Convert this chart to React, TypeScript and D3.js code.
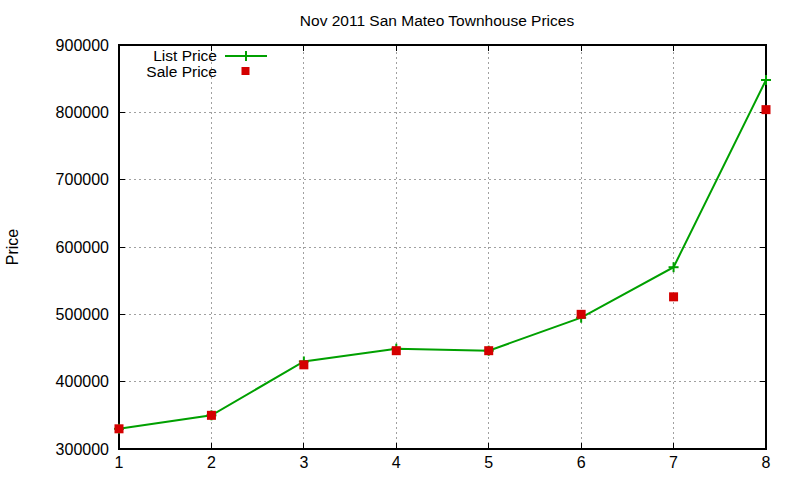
import React from 'react';
import * as d3 from 'd3';

const units = [1, 2, 3, 4, 5, 6, 7, 8];
const listPrices = [330000, 350000, 430000, 449000, 446000, 495000, 570000, 848000];
const salePrices = [330000, 350000, 425000, 446000, 446000, 500000, 526000, 804000];
const yTicks = [300000, 400000, 500000, 600000, 700000, 800000, 900000];

const W = 800;
const H = 480;
const margin = { top: 45, right: 34, bottom: 31, left: 119 };
const font = 'Liberation Sans, Arial, sans-serif';
const green = '#00a000';
const red = '#d40000';

const App: React.FC = () => {
  const x = d3.scaleLinear().domain([1, 8]).range([margin.left, W - margin.right]);
  const y = d3.scaleLinear().domain([300000, 900000]).range([H - margin.bottom, margin.top]);
  const [x0, x1] = x.range();
  const [y0, y1] = y.range();

  const line = d3
    .line<number>()
    .x((_, i) => x(units[i]))
    .y(d => y(d));

  // gnuplot-style tick length
  const tk = 6;

  return (
    <svg width={W} height={H} style={{ position: 'absolute', left: 0, top: 0, background: '#fff' }}>
      {/* grid */}
      <g stroke="#a0a0a0" strokeWidth={1} strokeDasharray="2,3" shapeRendering="crispEdges">
        {units.slice(1, -1).map(u => (
          <line key={`gx${u}`} x1={x(u)} x2={x(u)} y1={y0} y2={y1} />
        ))}
        {yTicks.slice(1, -1).map(t => (
          <line key={`gy${t}`} x1={x0} x2={x1} y1={y(t)} y2={y(t)} />
        ))}
      </g>

      {/* ticks (inward, mirrored) */}
      <g stroke="#000" strokeWidth={1} shapeRendering="crispEdges">
        {units.map(u => (
          <g key={`tx${u}`}>
            <line x1={x(u)} x2={x(u)} y1={y0} y2={y0 - tk} />
            <line x1={x(u)} x2={x(u)} y1={y1} y2={y1 + tk} />
          </g>
        ))}
        {yTicks.map(t => (
          <g key={`ty${t}`}>
            <line x1={x0} x2={x0 + tk} y1={y(t)} y2={y(t)} />
            <line x1={x1} x2={x1 - tk} y1={y(t)} y2={y(t)} />
          </g>
        ))}
      </g>

      {/* border */}
      <rect
        x={x0}
        y={y1}
        width={x1 - x0}
        height={y0 - y1}
        fill="none"
        stroke="#000"
        strokeWidth={1.3}
        shapeRendering="crispEdges"
      />

      {/* tick labels */}
      <g fontFamily={font} fontSize={16} fill="#000">
        {yTicks.map(t => (
          <text key={`ly${t}`} x={x0 - 10} y={y(t)} textAnchor="end" dominantBaseline="central">
            {t}
          </text>
        ))}
        {units.map(u => (
          <text key={`lx${u}`} x={x(u)} y={y0 + 13} textAnchor="middle" dominantBaseline="central">
            {u}
          </text>
        ))}
      </g>

      {/* title and axis label */}
      <text x={437} y={20} textAnchor="middle" dominantBaseline="central" fontFamily={font} fontSize={15.5}>
        Nov 2011 San Mateo Townhouse Prices
      </text>
      <text
        transform={`translate(12,${(y0 + y1) / 2}) rotate(-90)`}
        textAnchor="middle"
        dominantBaseline="central"
        fontFamily={font}
        fontSize={16}
      >
        Price
      </text>

      {/* list price line */}
      <path d={line(listPrices) || ''} fill="none" stroke={green} strokeWidth={2} />
      {listPrices.map((v, i) => (
        <g key={`lp${i}`} stroke={green} strokeWidth={2}>
          <line x1={x(units[i]) - 5} x2={x(units[i]) + 5} y1={y(v)} y2={y(v)} />
          <line x1={x(units[i])} x2={x(units[i])} y1={y(v) - 5} y2={y(v) + 5} />
        </g>
      ))}

      {/* sale price points */}
      {salePrices.map((v, i) => (
        <rect key={`sp${i}`} x={x(units[i]) - 4.5} y={y(v) - 4.5} width={9} height={9} fill={red} />
      ))}

      {/* legend */}
      <g fontFamily={font} fontSize={15.5}>
        <text x={217} y={55} textAnchor="end" dominantBaseline="central">List Price</text>
        <line x1={225} x2={267} y1={56} y2={56} stroke={green} strokeWidth={2} />
        <line x1={241} x2={251} y1={56} y2={56} stroke={green} strokeWidth={2} />
        <line x1={246} x2={246} y1={51} y2={61} stroke={green} strokeWidth={2} />
        <text x={217} y={71.5} textAnchor="end" dominantBaseline="central">Sale Price</text>
        <rect x={241.5} y={67} width={8} height={8} fill={red} />
      </g>
    </svg>
  );
};

export default App;
